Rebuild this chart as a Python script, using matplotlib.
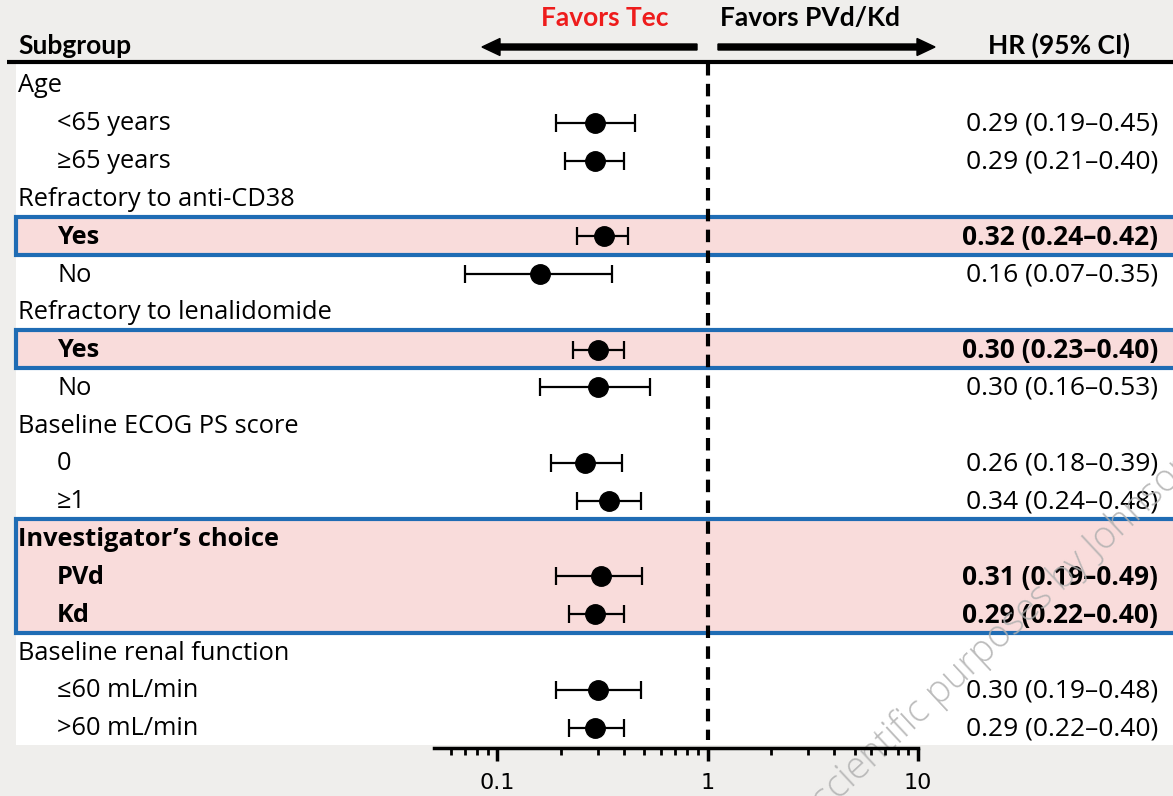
import numpy as np
import matplotlib.pyplot as plt
from matplotlib.patches import Rectangle, FancyArrow

plt.rcParams['font.family'] = ['Open Sans', 'DejaVu Sans']

# Subgroup rows (label, indent level, bold)
labels = ['Age', '<65 years', '≥65 years',
          'Refractory to anti-CD38', 'Yes', 'No',
          'Refractory to lenalidomide', 'Yes', 'No',
          'Baseline ECOG PS score', '0', '≥1',
          'Investigator’s choice', 'PVd', 'Kd',
          'Baseline renal function', '≤60 mL/min', '>60 mL/min']
indent = [0, 1, 1, 0, 1, 1, 0, 1, 1, 0, 1, 1, 0, 1, 1, 0, 1, 1]
bold = [False, False, False, False, True, False, False, True, False,
        False, False, False, True, True, True, False, False, False]

# HR and 95% CI (None for header rows)
hr = [None, 0.29, 0.29, None, 0.32, 0.16, None, 0.30, 0.30,
      None, 0.26, 0.34, None, 0.31, 0.29, None, 0.30, 0.29]
lo = [None, 0.19, 0.21, None, 0.24, 0.07, None, 0.23, 0.16,
      None, 0.18, 0.24, None, 0.19, 0.22, None, 0.19, 0.22]
hi = [None, 0.45, 0.40, None, 0.42, 0.35, None, 0.40, 0.53,
      None, 0.39, 0.48, None, 0.49, 0.40, None, 0.48, 0.40]

# highlighted blocks (first row, last row)
boxes = [(4, 4), (7, 7), (12, 14)]

W, H = 1173, 796
fig = plt.figure(figsize=(W / 100, H / 100), dpi=100)
fig.patch.set_facecolor('#efeeec')

bg = fig.add_axes([0, 0, 1, 1])
bg.set_xlim(0, W)
bg.set_ylim(H, 0)
bg.axis('off')

row0, dy = 85, 37.8
ys = [row0 + i * dy for i in range(len(labels))]

# white panel
bg.add_patch(Rectangle((16, 63), W - 16, 682, facecolor='white', edgecolor='none', zorder=0))
# highlight boxes
for a, b in boxes:
    top = ys[a] - dy / 2 - 0.5
    bot = ys[b] + dy / 2 - 0.5
    bg.add_patch(Rectangle((16, top), W, bot - top, facecolor='#f9dcdb',
                           edgecolor='#1f6cb4', linewidth=3, zorder=1))

# header line
bg.plot([7, W], [62, 62], color='black', lw=3, zorder=3, solid_capstyle='butt')

# header text
hdr = dict(fontsize=19, fontweight='bold', va='center', family=['Lato', 'DejaVu Sans'])
bg.text(18, 46, 'Subgroup', ha='left', **hdr)
bg.text(1130, 45, 'HR (95% CI)', ha='right', **hdr)
bg.text(605, 18, 'Favors Tec', ha='center', color='#ee1c1c', **hdr)
bg.text(810, 18, 'Favors PVd/Kd', ha='center', **hdr)

# arrows
bg.add_patch(FancyArrow(697, 47, -197, 0, width=6, head_width=17, head_length=18,
                        length_includes_head=False, color='black', zorder=3))
bg.add_patch(FancyArrow(718, 47, 199, 0, width=6, head_width=17, head_length=18,
                        length_includes_head=False, color='black', zorder=3))

# row labels and HR text
for i, lab in enumerate(labels):
    x = 18 if indent[i] == 0 else 57
    bg.text(x, ys[i] + 1, lab, fontsize=18.3, va='center', ha='left',
            fontweight='bold' if bold[i] else 'normal', zorder=4)
    if hr[i] is not None:
        s = f'{hr[i]:.2f} ({lo[i]:.2f}\u2013{hi[i]:.2f})'
        bg.text(1158, ys[i] + 1, s, fontsize=19, va='center', ha='right',
                fontweight='bold' if bold[i] else 'normal', zorder=4)

# forest axes: pixels 434..918 horizontally, 63..748 vertically
ax = fig.add_axes([434 / W, (H - 748) / H, (918 - 434) / W, (748 - 63) / H])
ax.set_xscale('log')
ax.set_xlim(0.05, 10)
ax.set_ylim(748, 63)
ax.patch.set_alpha(0)
for sp in ['top', 'left', 'right']:
    ax.spines[sp].set_visible(False)
ax.spines['bottom'].set_linewidth(2.5)
ax.set_yticks([])
ax.set_xticks([0.1, 1, 10])
ax.set_xticklabels(['0.1', '1', '10'], fontfamily='DejaVu Sans')
ax.tick_params(axis='x', which='major', length=9, width=2.5, labelsize=16, pad=9)
ax.tick_params(axis='x', which='minor', length=5, width=2)
ax.set_xticks([0.06, 0.07, 0.08, 0.09] + [k / 10 for k in range(2, 10)]
              + list(range(2, 10)), minor=True)
ax.xaxis.set_minor_formatter(plt.NullFormatter())

# reference line at HR = 1
ax.plot([1, 1], [63, 748 - 8], color='black', lw=3, ls=(0, (3, 2)), zorder=2)

for i in range(len(labels)):
    if hr[i] is None:
        continue
    ax.errorbar(hr[i], ys[i], xerr=[[hr[i] - lo[i]], [hi[i] - hr[i]]], fmt='o',
                color='black', ms=14, capsize=6.5, elinewidth=1.6, capthick=1.6, zorder=5)

# watermark
bg.text(826, 812, 'scientific purposes by Johnson', fontsize=27, rotation=43,
        rotation_mode='anchor', ha='left', va='baseline', color='#b0b0b0',
        alpha=0.85, fontweight='light', zorder=10)

fig.savefig('out.png', dpi=100, facecolor=fig.get_facecolor())
